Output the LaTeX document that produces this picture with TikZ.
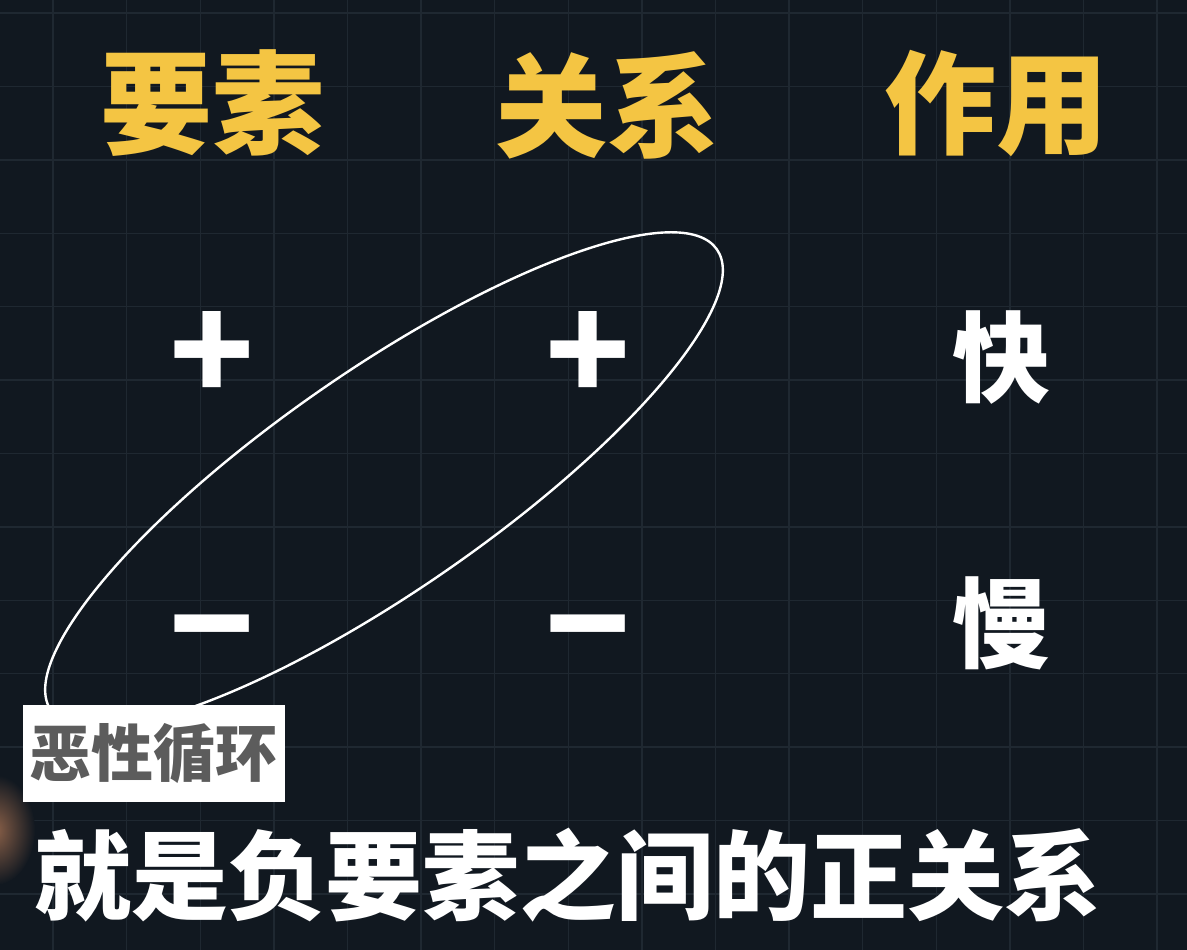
\documentclass[tikz,border=0pt]{standalone}
\usepackage{fontspec}
\newfontfamily\cjk{Noto Sans CJK SC}
\usetikzlibrary{shapes.geometric}
\definecolor{bgc}{HTML}{111820}
\definecolor{gridc}{HTML}{1F2831}
\definecolor{headc}{HTML}{F4C543}
\definecolor{labelgray}{HTML}{5C5C5C}
\definecolor{glowc}{HTML}{8A6048}
\tikzset{
  gridline/.style={draw=gridc,line width=1.4pt},
  head/.style={text=headc,inner sep=0pt,font=\cjk\bfseries\fontsize{112}{112}\selectfont},
  sign/.style={text=white,inner sep=0pt,font=\cjk\bfseries\fontsize{140}{140}\selectfont},
  speed/.style={text=white,inner sep=0pt,font=\cjk\bfseries\fontsize{98}{98}\selectfont},
  loopring/.style={ellipse,draw=white,line width=2.4pt,inner sep=0pt,minimum width=810pt,minimum height=220pt},
  tagbox/.style={fill=white,text=labelgray,inner sep=0pt,minimum width=262pt,minimum height=97pt,font=\cjk\bfseries\fontsize{62}{62}\selectfont},
  subtitle/.style={text=white,inner sep=0pt,font=\cjk\bfseries\fontsize{97}{97}\selectfont}
}
\begin{document}
\begin{tikzpicture}[x=1pt,y=-1pt]
\fill[bgc] (0,0) rectangle (1187,950);
\useasboundingbox (0,0) rectangle (1187,950);
\begin{scope}
\clip (0,0) rectangle (1187,950);
\foreach \i in {0,...,16} \draw[gridline] ({53+73.6*(\i-1)},0) -- ({53+73.6*(\i-1)},950);
\foreach \j in {0,...,13} \draw[gridline] (0,{13+73.4*\j}) -- (1187,{13+73.4*\j});
\shade[inner color=glowc,outer color=bgc] (-5,830) ellipse (40 and 55);
\end{scope}
\node[head] (h1) at (212.5,103) {要素};
\node[head] (h2) at (607.5,105) {关系};
\node[head] (h3) at (996.5,103) {作用};
\node[sign] (p1) at (212.5,356.5) {+};
\node[sign] (p2) at (588,356.5) {+};
\node[sign] (m1) at (212.5,646) {−};
\node[sign] (m2) at (588,646) {−};
\node[speed] (fast) at (1001,358) {快};
\node[speed] (slow) at (1001,623) {慢};
\node[loopring,rotate=34.7] (loop) at (384,480) {};
\node[tagbox] (tag) at (154,753.5) {恶性循环};
\node[subtitle] (sub) at (568,875) {就是负要素之间的正关系};
\end{tikzpicture}
\end{document}
